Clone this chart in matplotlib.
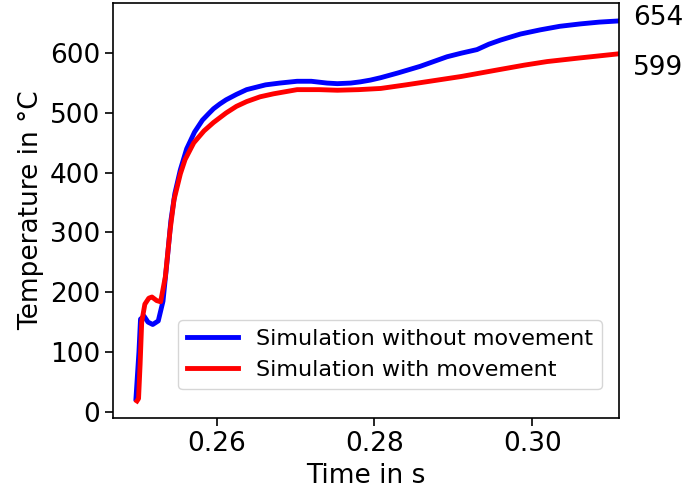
import matplotlib
matplotlib.use('Agg')
import matplotlib.pyplot as plt

# Simulation without movement (blue)
t_without = [0.24977, 0.25015, 0.25035, 0.2508, 0.2513, 0.2519, 0.2526, 0.2532,
             0.2537, 0.2542, 0.2547, 0.2554, 0.2562, 0.2572, 0.2582, 0.2590,
             0.2596, 0.2604, 0.2612, 0.2625, 0.2638, 0.2650, 0.2662, 0.2680,
             0.2702, 0.2720, 0.2740, 0.2753, 0.2770, 0.2782, 0.2795, 0.2808,
             0.2830, 0.2858, 0.2875, 0.2892, 0.2910, 0.2930, 0.2945, 0.2960,
             0.2985, 0.3010, 0.3035, 0.3061, 0.3085, 0.3110]
T_without = [22, 100, 155, 160, 150, 146, 152, 185,
             250, 320, 365, 405, 440, 468, 488, 499,
             507, 515, 522, 531, 539, 543, 547, 550,
             553, 553, 550, 549, 550, 552, 555, 559,
             567, 578, 586, 594, 600, 606, 615, 622,
             632, 639, 645, 649, 652, 654]

# Simulation with movement (red)
t_with = [0.2499, 0.2501, 0.2503, 0.2505, 0.2509, 0.2514, 0.2518, 0.2524,
          0.2529, 0.2535, 0.2541, 0.2546, 0.2554, 0.2560, 0.2571, 0.2584,
          0.2596, 0.2612, 0.2625, 0.2638, 0.2655, 0.2672, 0.2702, 0.2730,
          0.2753, 0.2780, 0.2808, 0.2840, 0.2870, 0.2910, 0.2956, 0.2990,
          0.3019, 0.3060, 0.3110]
T_with = [18, 22, 80, 150, 180, 190, 192, 186,
          184, 226, 304, 355, 398, 422, 450, 470,
          484, 500, 511, 519, 527, 532, 539, 539,
          538, 539, 541, 547, 553, 561, 572, 580,
          586, 592, 599]

end_labels = ['654', '599']

fig = plt.figure(figsize=(6.85, 4.98), dpi=100)
ax = fig.add_axes([0.1654, 0.1606, 0.7382, 0.8334])

ax.plot(t_without, T_without, color='blue', lw=3.5, label='Simulation without movement')
ax.plot(t_with, T_with, color='red', lw=3.5, label='Simulation with movement')

ax.set_xlim(0.2469, 0.3110)
ax.set_ylim(-10.5, 684)
ax.set_xticks([0.26, 0.28, 0.30])
ax.set_xticklabels(['0.26', '0.28', '0.30'])
ax.set_yticks(range(0, 700, 100))

ax.tick_params(labelsize=19, length=6, width=1.2)
for s in ax.spines.values():
    s.set_linewidth(1.2)

ax.set_xlabel('Time in s', fontsize=19, labelpad=4)
ax.set_ylabel('Temperature in °C', fontsize=19)

# end values next to the right spine
ax.annotate(end_labels[0], xy=(1, T_without[-1]), xycoords=('axes fraction', 'data'),
            xytext=(10, 2), textcoords='offset points', fontsize=19, va='center')
ax.annotate(end_labels[1], xy=(1, T_with[-1]), xycoords=('axes fraction', 'data'),
            xytext=(10, -10), textcoords='offset points', fontsize=19, va='center')

ax.legend(loc='lower right', bbox_to_anchor=(0.966, 0.07), borderaxespad=0,
          fontsize=16, handlelength=2.3)

fig.savefig('out.png', dpi=100)
